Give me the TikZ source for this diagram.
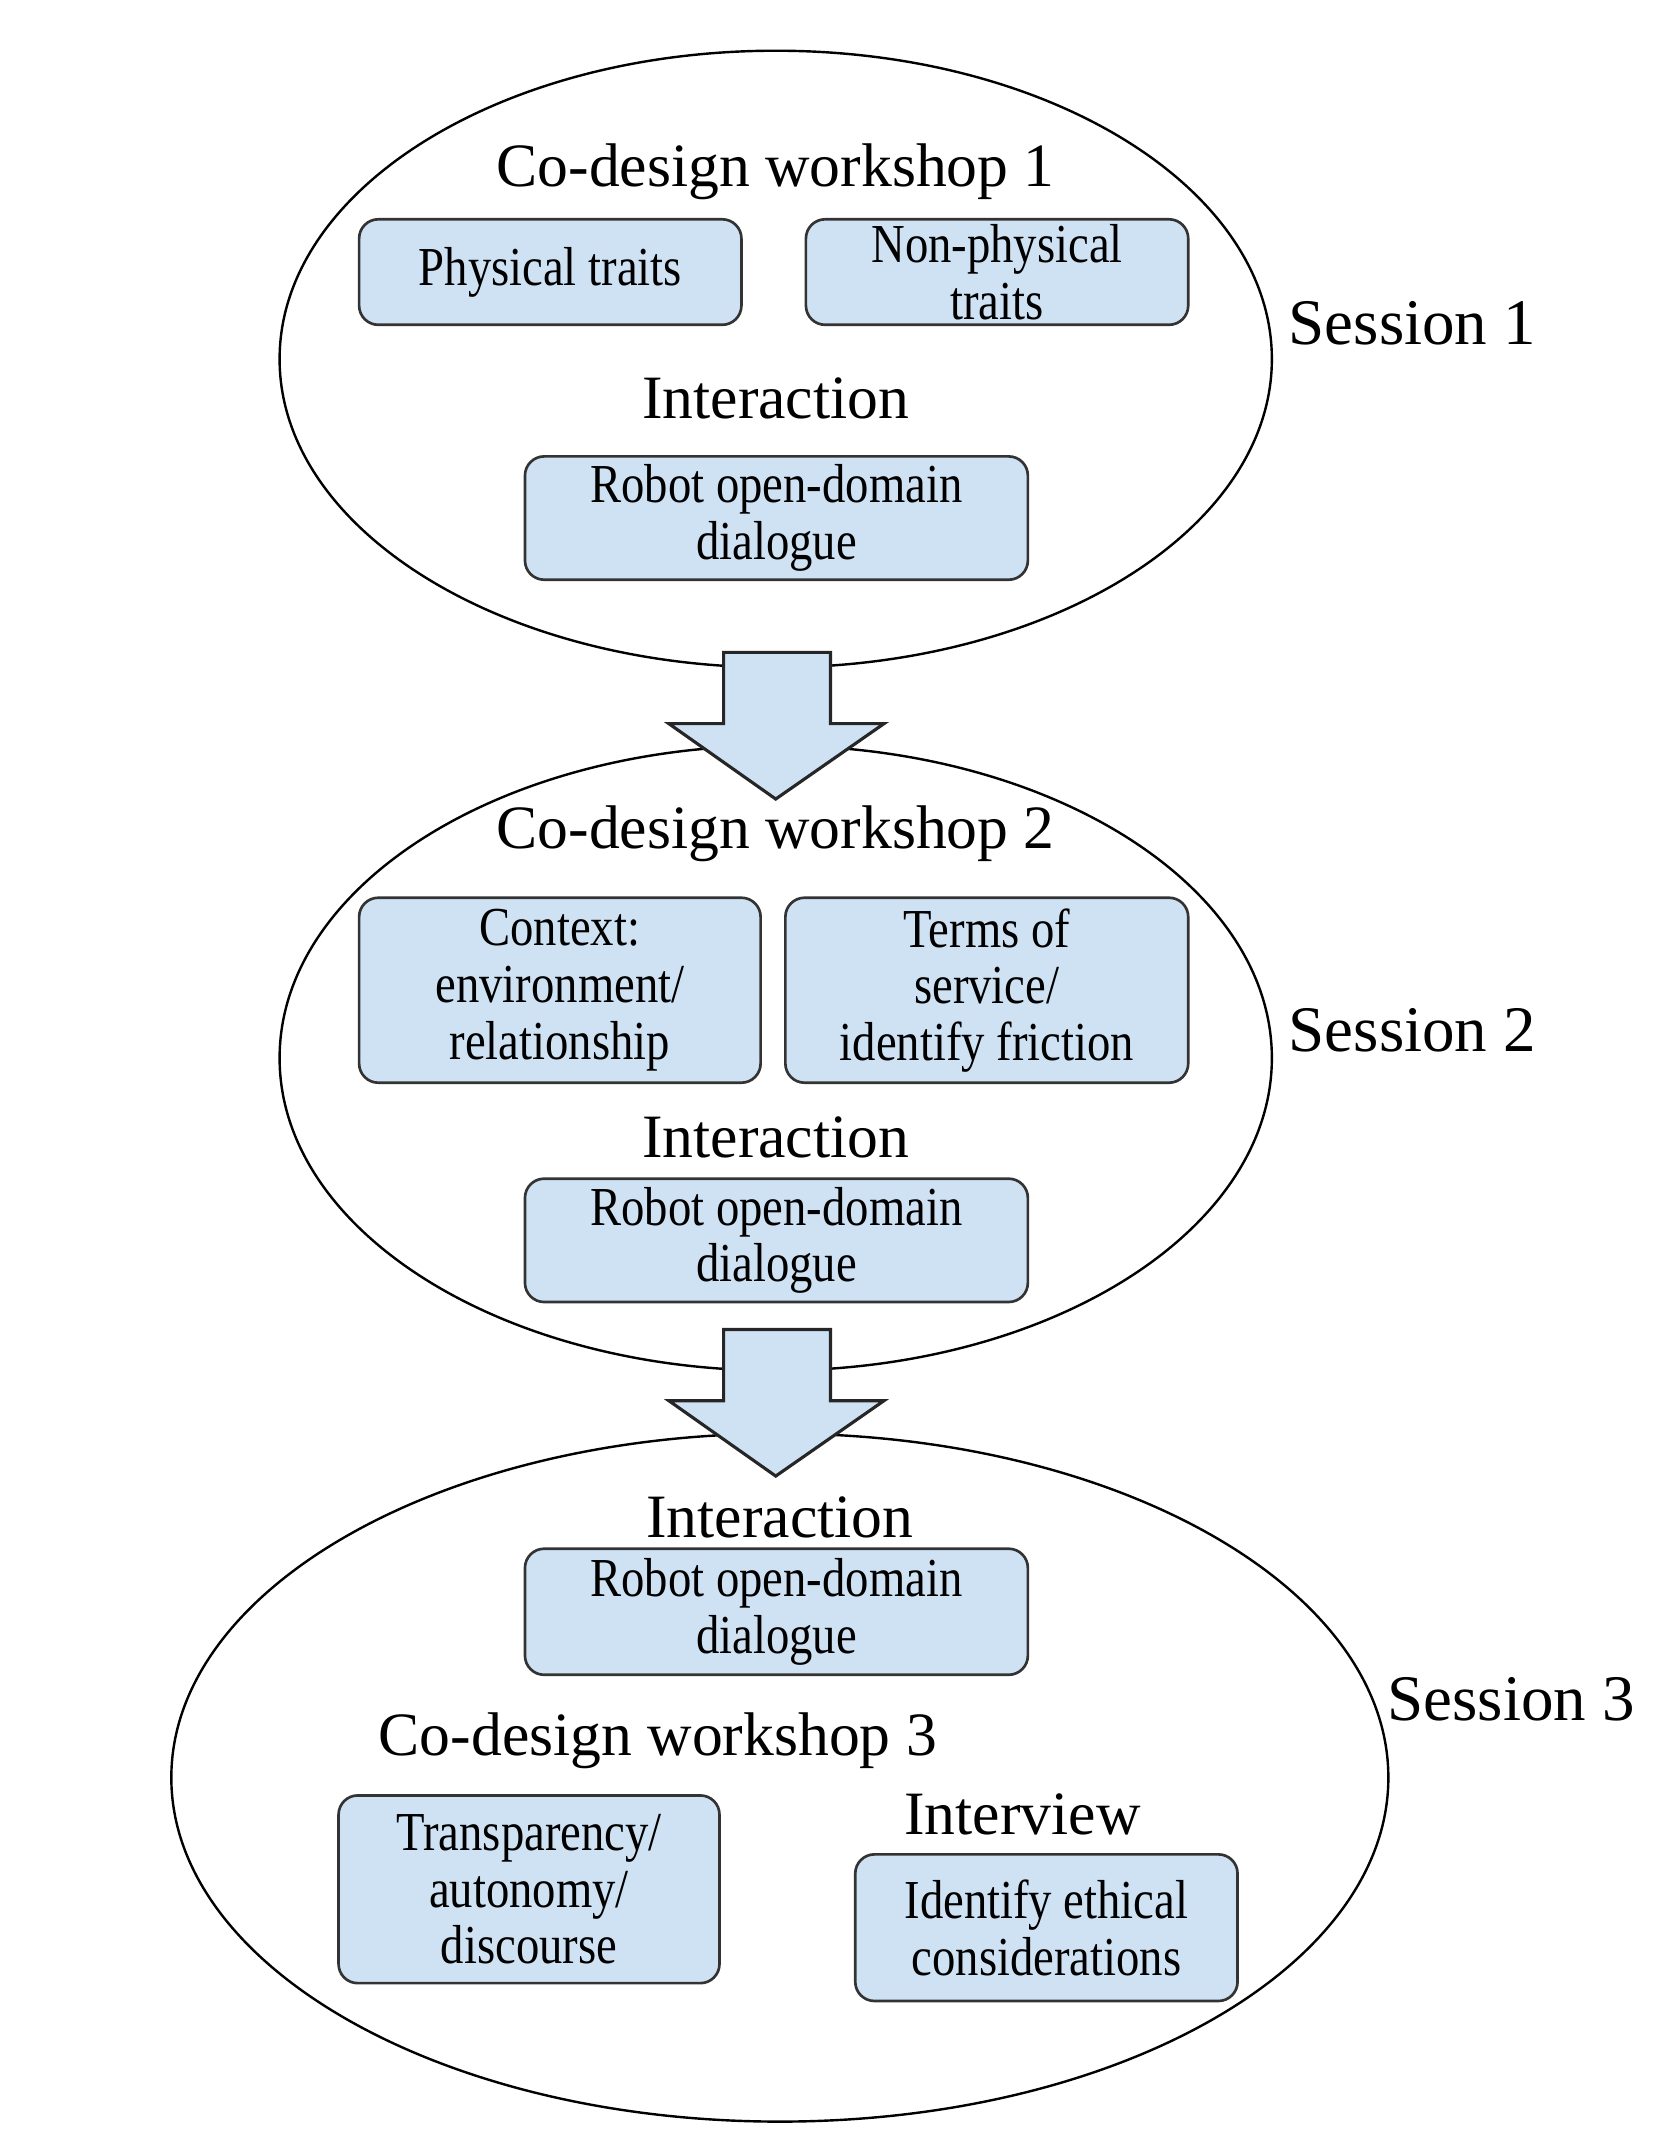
\documentclass[tikz,border=0pt]{standalone}
\usepackage{fontspec}
\setmainfont{Liberation Serif}
\newfontfamily\boxfont{Liberation Serif}[FakeStretch=0.85]
\definecolor{boxblue}{RGB}{207,226,243}
\tikzset{
    task/.style={draw=black!80, fill=boxblue, line width=1.1pt, rounded corners=0.28cm,
        align=center, inner sep=0pt, font=\boxfont\fontsize{22.8}{23.5}\selectfont},
    heading/.style={font=\fontsize{25.6}{30}\selectfont},
    sessionlabel/.style={anchor=west, inner sep=0pt, font=\fontsize{27}{30}\selectfont},
    session/.style={draw, line width=1pt},
    flow/.style={draw=black!85, fill=boxblue, line width=1.3pt},
}

\begin{document}
\begin{tikzpicture}[x=0.02cm, y=-0.02cm]
    \useasboundingbox (0,0) rectangle (1221,1568);
    % the three sessions
    \draw[session] (566,262) ellipse [x radius=362, y radius=225];
    \draw[session] (566,772) ellipse [x radius=362, y radius=228];
    \draw[session] (569,1297) ellipse [x radius=444, y radius=251];
    \draw[flow] (528,476) -- (606,476) -- (606,528) -- (645,528) -- (566,583) -- (488,528) -- (528,528) -- cycle;
    \draw[flow] (528,970) -- (606,970) -- (606,1022) -- (645,1022) -- (566,1077) -- (488,1022) -- (528,1022) -- cycle;
    % session 1
    \node[heading] (ws1) at (566,125) {Co-design workshop 1};
    \node[task, minimum width=5.58cm, minimum height=1.54cm] (phys) at (401.5,198.5) {Physical traits};
    \node[task, minimum width=5.58cm, minimum height=1.54cm] (nonphys) at (727.5,198.5) {Non-physical\\traits};
    \node[heading] (int1) at (566,291) {Interaction};
    \node[task, minimum width=7.34cm, minimum height=1.8cm] (robot1) at (566.5,378) {Robot open-domain\\dialogue};
    \node[sessionlabel] (sess1) at (940,236) {Session 1};
    % session 2
    \node[heading] (ws2) at (566,608) {Co-design workshop 2};
    \node[task, minimum width=5.86cm, minimum height=2.7cm] (context) at (408.5,722.5) {Context:\\environment/\\relationship};
    \node[task, minimum width=5.88cm, minimum height=2.7cm] (terms) at (720,722.5) {Terms of\\service/\\identify friction};
    \node[heading] (int2) at (566,830) {Interaction};
    \node[task, minimum width=7.34cm, minimum height=1.8cm] (robot2) at (566.5,905) {Robot open-domain\\dialogue};
    \node[sessionlabel] (sess2) at (940,752) {Session 2};
    % session 3
    \node[heading] (int3) at (569,1107) {Interaction};
    \node[task, minimum width=7.34cm, minimum height=1.84cm] (robot3) at (566.5,1176) {Robot open-domain\\dialogue};
    \node[heading] (ws3) at (480,1270) {Co-design workshop 3};
    \node[task, minimum width=5.56cm, minimum height=2.74cm] (transp) at (386,1378.5) {Transparency/\\autonomy/\\discourse};
    \node[heading] (intv) at (746,1324) {Interview};
    \node[task, minimum width=5.58cm, minimum height=2.14cm] (ethics) at (763.5,1406.5) {Identify ethical\\considerations};
    \node[sessionlabel] (sess3) at (1012,1240) {Session 3};
\end{tikzpicture}
\end{document}
